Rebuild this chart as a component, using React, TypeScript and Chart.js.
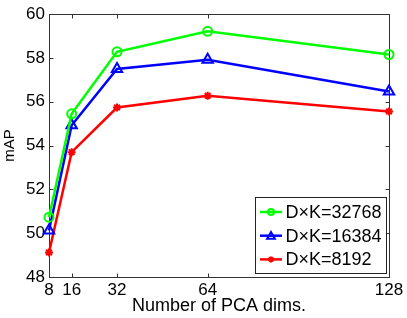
import React, { useEffect, useRef } from 'react';
import { Chart, registerables } from 'chart.js';

Chart.register(...registerables);

const pcaDims = [8, 16, 32, 64, 128];
const yTickValues = [48, 50, 52, 54, 56, 58, 60];
const series32768 = [50.73, 55.45, 58.28, 59.22, 58.16];
const series16384 = [50.12, 54.93, 57.5, 57.92, 56.47];
const series8192 = [49.12, 53.7, 55.74, 56.28, 55.56];
const seriesLabels = ['D×K=32768', 'D×K=16384', 'D×K=8192'];
const seriesColors = ['#00ff00', '#0000ff', '#ff0000'];
const seriesMarkers = ['circle', 'triangle', 'star'];

const FONT = '"Liberation Sans", Arial, Helvetica, sans-serif';

function drawMarker(ctx: CanvasRenderingContext2D, style: string, x: number, y: number, r: number) {
  ctx.beginPath();
  if (style === 'circle') {
    ctx.arc(x, y, r, 0, Math.PI * 2);
  } else if (style === 'triangle') {
    for (let k = 0; k < 3; k++) {
      const ang = (k * 2 * Math.PI) / 3;
      const px = x + Math.sin(ang) * r;
      const py = y - Math.cos(ang) * r + r * 0.15;
      if (k === 0) ctx.moveTo(px, py);
      else ctx.lineTo(px, py);
    }
    ctx.closePath();
  } else {
    ctx.moveTo(x - r, y);
    ctx.lineTo(x + r, y);
    ctx.moveTo(x, y - r);
    ctx.lineTo(x, y + r);
    const d = r * 0.707;
    ctx.moveTo(x - d, y - d);
    ctx.lineTo(x + d, y + d);
    ctx.moveTo(x - d, y + d);
    ctx.lineTo(x + d, y - d);
  }
  ctx.stroke();
}

const boxPlugin = {
  id: 'matlabBox',
  beforeDatasetsDraw(chart: any) {
    const { ctx, chartArea: a, scales } = chart;
    const xs = scales.x;
    const ys = scales.y;
    const L = 4;
    ctx.save();
    ctx.lineWidth = 1;
    ctx.strokeStyle = '#333';
    const l = Math.round(a.left) + 0.5;
    const r = Math.round(a.right) + 0.5;
    const t = Math.round(a.top) + 0.5;
    const b = Math.round(a.bottom) + 0.5;
    ctx.strokeRect(l, t, r - l, b - t);
    ctx.beginPath();
    xs.ticks.forEach((tk: any) => {
      const px = Math.round(xs.getPixelForValue(tk.value)) + 0.5;
      ctx.moveTo(px, b);
      ctx.lineTo(px, b - L);
      ctx.moveTo(px, t);
      ctx.lineTo(px, t + L);
    });
    ys.ticks.forEach((tk: any) => {
      const py = Math.round(ys.getPixelForValue(tk.value)) + 0.5;
      ctx.moveTo(l, py);
      ctx.lineTo(l + L, py);
      ctx.moveTo(r, py);
      ctx.lineTo(r - L, py);
    });
    ctx.stroke();
    ctx.restore();
  },
};

const legendPlugin = {
  id: 'insideLegend',
  afterDraw(chart: any) {
    const { ctx, chartArea: a } = chart;
    const w = 131;
    const h = 76;
    const rowH = 23.7;
    const right = Math.round(a.right) - 2.5;
    const bottom = Math.round(a.bottom) - 3.5;
    const left = right - w;
    const top = bottom - h;
    ctx.save();
    ctx.fillStyle = '#ffffff';
    ctx.fillRect(left, top, w, h);
    ctx.lineWidth = 1;
    ctx.strokeStyle = '#222';
    ctx.strokeRect(left, top, w, h);
    chart.data.datasets.forEach((ds: any, i: number) => {
      const cy = top + 14.5 + i * rowH;
      ctx.strokeStyle = ds.borderColor;
      ctx.lineWidth = 2.5;
      ctx.beginPath();
      ctx.moveTo(left + 4.5, cy);
      ctx.lineTo(left + 26.5, cy);
      ctx.stroke();
      ctx.lineWidth = 2;
      const ms = seriesMarkers[i];
      drawMarker(ctx, ms, left + 15.5, cy, ms === 'triangle' ? 4.5 : 3);
      ctx.fillStyle = '#000';
      ctx.font = `18px ${FONT}`;
      ctx.textBaseline = 'middle';
      ctx.textAlign = 'left';
      ctx.fillText(ds.label, left + 30, cy + 1);
    });
    ctx.restore();
  },
};

export default function App() {
  const ref = useRef<HTMLCanvasElement | null>(null);

  useEffect(() => {
    document.body.style.margin = '0';
    const seriesValues = [series32768, series16384, series8192];
    const datasets = seriesValues.map((vals, i) => ({
      label: seriesLabels[i],
      data: pcaDims.map((x, j) => ({ x, y: vals[j] })),
      borderColor: seriesColors[i],
      backgroundColor: 'transparent',
      pointBorderColor: seriesColors[i],
      pointBackgroundColor: 'transparent',
      borderWidth: 2.5,
      pointStyle: seriesMarkers[i],
      pointRadius: seriesMarkers[i] === 'triangle' ? 6 : seriesMarkers[i] === 'circle' ? 4.5 : 4,
      pointBorderWidth: 2,
      tension: 0,
      clip: false as any,
    }));
    const chart = new Chart(ref.current as HTMLCanvasElement, {
      type: 'line',
      data: { datasets },
      plugins: [boxPlugin, legendPlugin],
      options: {
        animation: false,
        responsive: false,
        maintainAspectRatio: false,
        layout: { padding: { top: 12, right: 18, left: 0, bottom: 0 } },
        plugins: { legend: { display: false }, tooltip: { enabled: false } },
        scales: {
          x: {
            type: 'linear',
            min: 8,
            max: 128,
            afterBuildTicks: (scale: any) => {
              scale.ticks = pcaDims.map((v) => ({ value: v }));
            },
            afterFit: (scale: any) => {
              scale.height = 41;
            },
            grid: { display: false, drawTicks: false },
            border: { display: false },
            ticks: {
              color: '#000',
              font: { family: FONT, size: 17 },
              padding: 3,
              maxRotation: 0,
              autoSkip: false,
              callback: (v: any) => String(v),
            },
            title: {
              display: true,
              text: 'Number of PCA dims.',
              color: '#000',
              font: { family: FONT, size: 18 },
              padding: { top: 0, bottom: 1 },
            },
          },
          y: {
            type: 'linear',
            min: 48,
            max: 60,
            afterBuildTicks: (scale: any) => {
              scale.ticks = yTickValues.map((v) => ({ value: v }));
            },
            afterFit: (scale: any) => {
              scale.width = 49;
            },
            grid: { display: false, drawTicks: false },
            border: { display: false },
            ticks: {
              color: '#000',
              font: { family: FONT, size: 17 },
              padding: 4,
              autoSkip: false,
              callback: (v: any) => String(v),
            },
            title: {
              display: true,
              text: 'mAP',
              color: '#000',
              font: { family: FONT, size: 15 },
              padding: { top: 1, bottom: 0 },
            },
          },
        },
      },
    });
    return () => chart.destroy();
  }, []);

  return (
    <div style={{ position: 'absolute', left: 0, top: 0, width: 407, height: 318 }}>
      <canvas ref={ref} width={407} height={318} style={{ width: 407, height: 318, display: 'block' }} />
    </div>
  );
}
